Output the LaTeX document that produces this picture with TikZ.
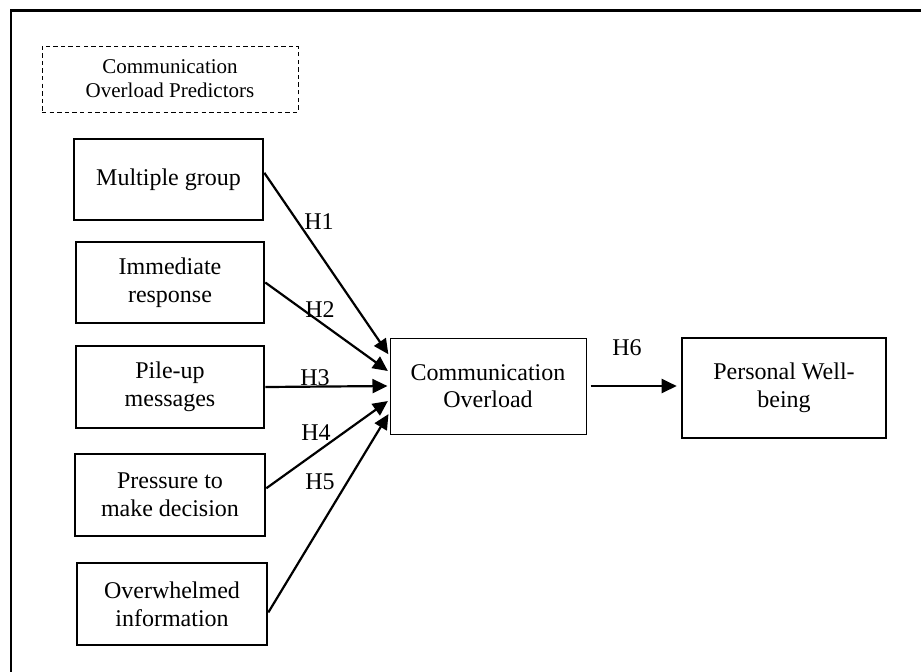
\documentclass[tikz,border=0pt]{standalone}
\usepackage{fontspec}
\setmainfont{Liberation Serif}
\usetikzlibrary{shapes, arrows.meta}

\begin{document}
\begin{tikzpicture}[x=0.5pt, y=-0.5pt,
    box/.style = {draw, line width=1.3pt, align=center, inner sep=0pt, font=\fontsize{12}{13.8}\selectfont},
    mainbox/.style = {draw, line width=0.5pt, align=center, inner sep=0pt, font=\fontsize{12}{13.8}\selectfont},
    groupbox/.style = {draw, dashed, dash pattern=on 2.2pt off 1.6pt, line width=0.5pt, align=center, inner sep=0pt, font=\fontsize{10.5}{12}\selectfont},
    hyp/.style = {font=\fontsize{12}{13.8}\selectfont, inner sep=0pt},
    link/.style = {line width=1.1pt, shorten >=1pt, -{Triangle[length=7.5pt, width=7pt]}}]
                \useasboundingbox (0,0) rectangle (921,671);
                % outer frame (cut at right and bottom)
                \draw[line width=1.3pt] (11,675) -- (11,10.5) -- (925,10.5);

                \node[groupbox, minimum width=128pt, minimum height=33pt] at (170, 79) (pred) {Communication\\Overload Predictors};

                \node[box, minimum width=94.5pt, minimum height=40.5pt] at (168.5, 179.5) (mg) {Multiple group};
                \node[box, minimum width=94pt, minimum height=40.5pt] at (170, 282.5) (ir) {Immediate\\response};
                \node[box, minimum width=94pt, minimum height=41pt] at (170, 387) (pm) {Pile-up\\messages};
                \node[box, minimum width=95pt, minimum height=41pt] at (170, 495) (pd) {Pressure to\\make decision};
                \node[box, minimum width=95pt, minimum height=41pt] at (172, 604) (oi) {Overwhelmed\\information};

                \node[mainbox, minimum width=98pt, minimum height=48pt] at (488, 386) (co) {Communication\\Overload};
                \node[box, minimum width=102pt, minimum height=50pt] at (784, 388) (pw) {Personal Well-\\being};

                \draw [link] (mg.4) -- (co.163);
                \draw [link] (ir.east) -- (co.172);
                \draw [link] (pm.east) -- (co.west);
                \draw [link] (pd.4) -- (co.188);
                \draw [link] (oi.355) -- (co.195);
                \draw [link] ([xshift=2pt]co.east) -- ([xshift=-1pt]co.east -| pw.west);

                \node[hyp] at (319, 222) (h1) {H1};
                \node[hyp] at (320, 310) (h2) {H2};
                \node[hyp] at (315, 378) (h3) {H3};
                \node[hyp] at (316, 433) (h4) {H4};
                \node[hyp] at (320, 482) (h5) {H5};
                \node[hyp] at (627, 348) (h6) {H6};
            \end{tikzpicture}
\end{document}
